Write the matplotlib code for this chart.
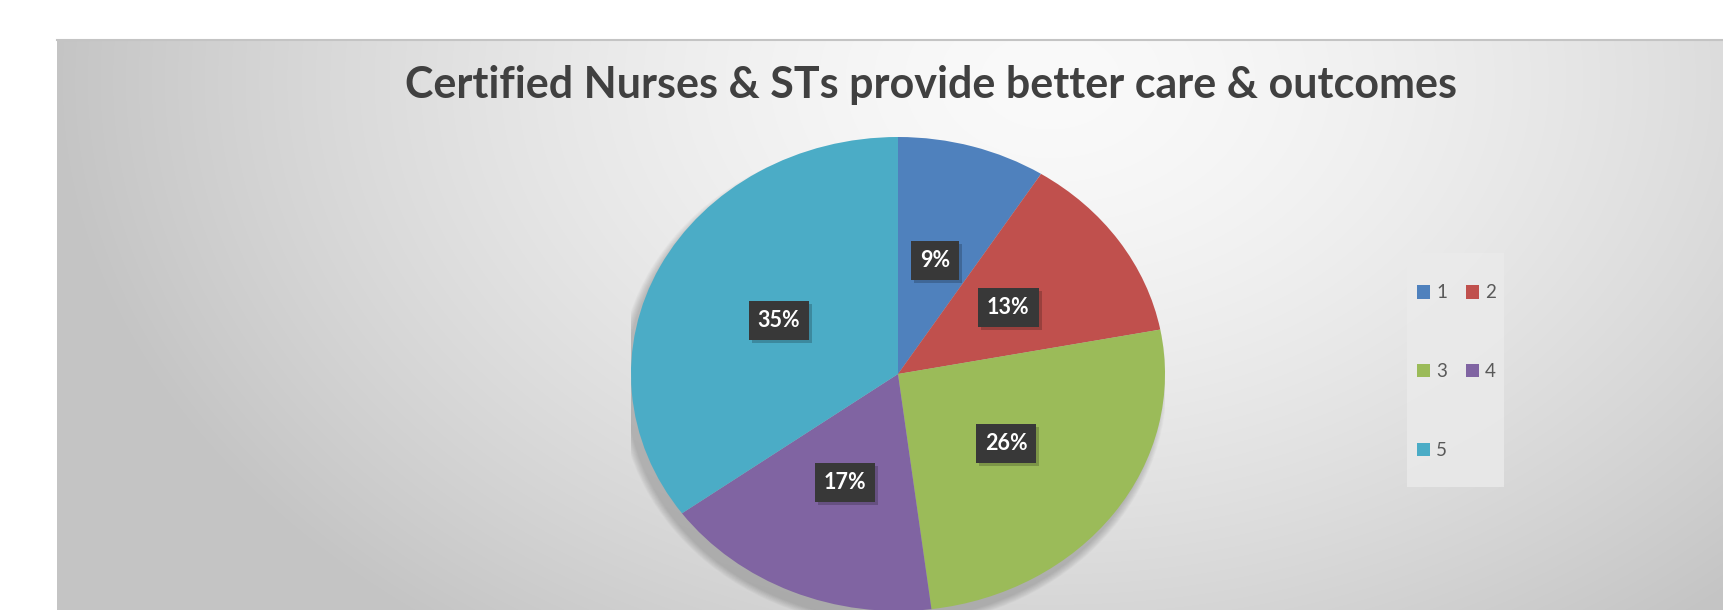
import numpy as np
import matplotlib
matplotlib.use("Agg")
import matplotlib.pyplot as plt
from matplotlib.patches import Ellipse, Rectangle, Patch
from matplotlib.lines import Line2D
import matplotlib.transforms as mtransforms

# ---------------------------------------------------------
# data
# ---------------------------------------------------------
categories = ["1", "2", "3", "4", "5"]
shares = [9, 13, 26, 17, 35]
colors = ["#4F81BD", "#C0504D", "#9BBB59", "#8064A2", "#4BACC6"]
title = "Certified Nurses & STs provide better care & outcomes"

W, H = 1723, 610
FONT = ["Lato", "DejaVu Sans"]

fig = plt.figure(figsize=(W / 100, H / 100), dpi=100)
fig.patch.set_facecolor("white")

# ---------------------------------------------------------
# chart area with radial grey gradient
# ---------------------------------------------------------
px0, py0 = 57, 40
bg = fig.add_axes([px0 / W, 0, 1 - px0 / W, (H - py0) / H])
xx, yy = np.meshgrid(np.arange(px0, W), np.arange(py0, H))
t = np.sqrt(((xx - 1050) / 1000.0) ** 2 + ((yy - 80) / 700.0) ** 2)
t = np.clip(t, 0, 1) ** 1.5
grey = (250 - 54 * t) / 255.0
bg.imshow(np.dstack([grey, grey, grey]), aspect="auto", interpolation="bilinear")
bg.set_axis_off()
fig.add_artist(Line2D([px0 / W, 1], [1 - py0 / H] * 2, color="#c4c4c4",
                      lw=1.5, transform=fig.transFigure))

# ---------------------------------------------------------
# pie (stretched ellipse like the original)
# ---------------------------------------------------------
cx, cy, rx, ry = 898, 374, 267, 237
ax = fig.add_axes([(cx - rx) / W, (H - cy - ry) / H, 2 * rx / W, 2 * ry / H])

# soft drop shadow, mostly bottom-left
for k in range(10):
    ax.add_patch(Ellipse((-0.02, -0.04), 2 + k * 0.006, 2 + k * 0.006,
                         fc="black", ec="none", alpha=0.02, zorder=0))

LBL = 15.5
wedges, texts, autotexts = ax.pie(
    shares, colors=colors, startangle=90, counterclock=False,
    autopct="%1.0f%%", pctdistance=0.5, radius=1,
    wedgeprops=dict(linewidth=0),
    textprops=dict(color="white", fontsize=LBL, fontweight="bold", family=FONT),
)
for w in wedges:
    w.set_zorder(2)

shadow_off = mtransforms.ScaledTranslation(3 / 100, -3 / 100, fig.dpi_scale_trans)
for at in autotexts:
    at.set_zorder(5)
    at.set_bbox(dict(boxstyle="square,pad=0.42", fc="#383838", ec="none"))
    x, y = at.get_position()
    sh = ax.text(x, y, at.get_text(), ha="center", va="center", color="none",
                 fontsize=LBL, fontweight="bold", family=FONT, zorder=4,
                 transform=ax.transData + shadow_off)
    sh.set_bbox(dict(boxstyle="square,pad=0.42", fc="black", ec="none", alpha=0.2))

ax.set_aspect("auto")
ax.set_xlim(-1, 1)
ax.set_ylim(-1, 1)
ax.set_axis_off()

# ---------------------------------------------------------
# title
# ---------------------------------------------------------
fig.text(931 / W, 1 - 85 / H, title, ha="center", va="center",
         fontsize=31, fontweight="bold", color="#404040", family=FONT)

# ---------------------------------------------------------
# legend (row-major 1 2 / 3 4 / 5)
# ---------------------------------------------------------
fig.add_artist(Rectangle((1407 / W, 1 - 487 / H), 97 / W, 234 / H,
                         transform=fig.transFigure, fc="#ebebeb", ec="none",
                         alpha=0.8, zorder=1))
order = [0, 2, 4, 1, 3]
handles = [Patch(fc=colors[i], ec="none") for i in order]
labels = [categories[i] for i in order]
leg = fig.legend(handles, labels, ncol=2, loc="upper left",
                 bbox_to_anchor=(1417 / W, 1 - 284.5 / H),
                 frameon=False, borderpad=0, borderaxespad=0,
                 handlelength=0.7, handleheight=0.7, handletextpad=0.32,
                 columnspacing=1.0, labelspacing=3.3,
                 prop=dict(family=FONT, size=13.5))
for txt in leg.get_texts():
    txt.set_color("#595959")
leg.set_zorder(3)

fig.savefig("out.png", dpi=100, facecolor=fig.get_facecolor())
